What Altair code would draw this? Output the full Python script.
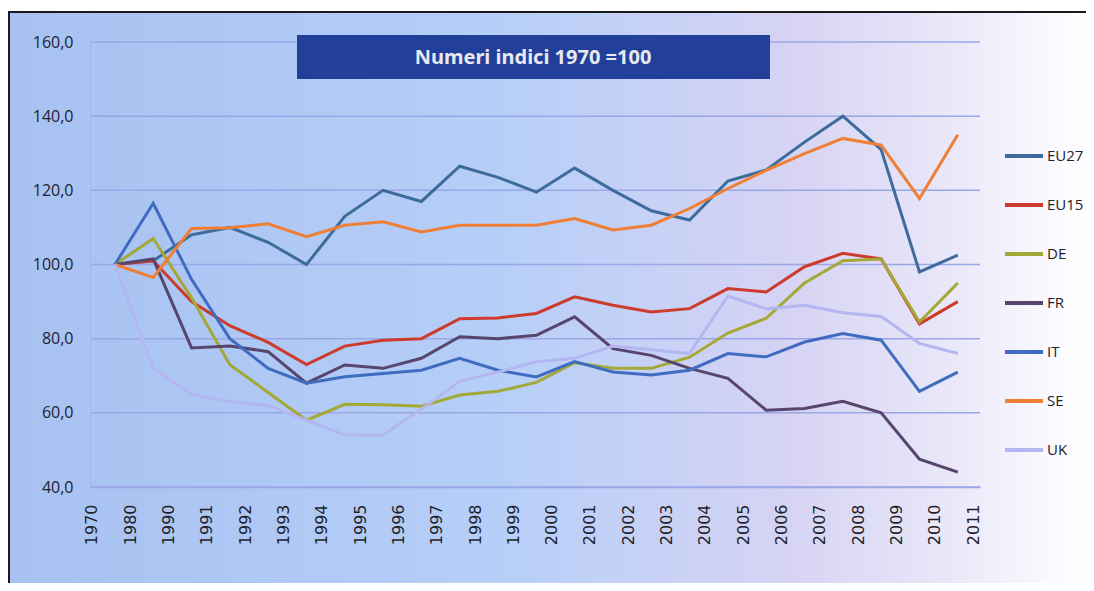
import altair as alt
import pandas as pd

# ---- data ----
year_labels = ["1970", "1980", "1990", "1991", "1992", "1993", "1994", "1995",
               "1996", "1997", "1998", "1999", "2000", "2001", "2002", "2003",
               "2004", "2005", "2006", "2007", "2008", "2009", "2010", "2011"]

series = ["EU27", "EU15", "DE", "FR", "IT", "SE", "UK"]

eu27 = [100, 101, 108, 110, 106, 100, 113, 120, 117, 126.5, 123.5, 119.5, 126,
        120, 114.5, 112, 122.5, 125.5, 133, 140, 131, 98, 102.5]
eu15 = [100, 101, 90, 83.5, 79, 73, 78, 79.6, 80, 85.4, 85.6, 86.8, 91.3,
        89, 87.2, 88.1, 93.5, 92.6, 99.4, 103, 101.5, 84, 90]
de = [100, 107, 91, 73, 65.5, 58, 62.3, 62.2, 61.8, 64.8, 65.8, 68.2, 73.5,
      72, 72, 75, 81.5, 85.5, 95, 101, 101.5, 84.5, 95]
fr = [100, 101.5, 77.5, 78, 76.5, 68, 72.9, 72, 74.7, 80.5, 80, 80.9, 85.9,
      77.3, 75.5, 72, 69.3, 60.7, 61.2, 63.1, 60, 47.5, 44]
it = [100, 116.5, 96, 80, 72, 68, 69.7, 70.6, 71.5, 74.7, 71.5, 69.7, 73.8,
      71, 70.2, 71.5, 76, 75.1, 79.1, 81.4, 79.6, 65.8, 71]
se = [100, 96.5, 109.7, 109.9, 111, 107.5, 110.6, 111.5, 108.8, 110.6, 110.6,
      110.6, 112.4, 109.3, 110.6, 115.1, 120.5, 125.4, 129.9, 134, 132.2, 117.8, 135]
uk = [100, 72, 65, 63, 62, 58, 54, 54, 61, 68.5, 71, 73.8, 74.7, 78, 77, 76,
      91.5, 88, 89, 87, 86, 78.7, 76]

y_ticks = [40, 60, 80, 100, 120, 140, 160]

colors = ["#3d6b9c", "#cc3b2c", "#a3a836", "#58456e", "#3f6cc0", "#ef7f35", "#b4b6f2"]

title_text = "Numeri indici 1970 =100"

# ---- build the tables ----
values = [eu27, eu15, de, fr, it, se, uk]
rows = []
for s, vals in zip(series, values):
    for i, v in enumerate(vals):
        rows.append({"serie": s, "pos": i + 0.6, "value": v, "order": series.index(s)})
df = pd.DataFrame(rows)

grid_df = pd.DataFrame({"value": y_ticks})
one = pd.DataFrame({"k": [0]})

label_expr = "[" + ",".join("'" + y + "'" for y in year_labels) + "][datum.value]"

x_scale = alt.Scale(domain=[-0.05, 23.18], nice=False, zero=False)
y_scale = alt.Scale(domain=[40, 160], nice=False, zero=False)

y_axis = alt.Axis(values=y_ticks,
                  labelExpr="replace(format(datum.value, '.1f'), '.', ',')",
                  title=None, grid=False, ticks=False, domain=True,
                  domainColor="#a9b6e6", labelFont="Open Sans",
                  labelFontSize=16, labelColor="#222230", labelPadding=17,
                  zindex=1)

grad = alt.LinearGradient(
    gradient="linear",
    stops=[
        alt.GradientStop(color="#a7c1f1", offset=0.0),
        alt.GradientStop(color="#b6cff8", offset=0.45),
        alt.GradientStop(color="#d6d3f4", offset=0.72),
        alt.GradientStop(color="#e8e6f8", offset=0.86),
        alt.GradientStop(color="#fbfbff", offset=0.97),
        alt.GradientStop(color="#ffffff", offset=1.0),
    ],
    x1=0, x2=1, y1=0, y2=0,
)

bg = alt.Chart(one).mark_rect(fill=grad).encode(
    x=alt.value(-82), x2=alt.value(1004), y=alt.value(-30), y2=alt.value(549)
)
frame_top = alt.Chart(one).mark_rule(color="#1a1a1a", strokeWidth=2).encode(
    x=alt.value(-82), x2=alt.value(1004), y=alt.value(-30)
)
frame_left = alt.Chart(one).mark_rule(color="#1a1a1a", strokeWidth=2).encode(
    x=alt.value(-81), y=alt.value(-30), y2=alt.value(549)
)

grid = alt.Chart(grid_df).mark_rule(color="#9ba6e6", strokeWidth=1.5).encode(
    y=alt.Y("value:Q", scale=y_scale, axis=y_axis),
    x=alt.value(0), x2=alt.value(890),
)

box = alt.Chart(one).mark_rect(color="#22409a").encode(
    x=alt.value(207), x2=alt.value(680), y=alt.value(-7), y2=alt.value(37)
)
box_text = alt.Chart(one).mark_text(
    text=title_text, font="Noto Sans", fontSize=20, fontWeight="bold",
    color="#e8e8f0", align="center", baseline="middle"
).encode(x=alt.value(443), y=alt.value(16))

lines = alt.Chart(df).mark_line(strokeWidth=3).encode(
    x=alt.X("pos:Q", scale=x_scale,
            axis=alt.Axis(values=list(range(len(year_labels))), labelExpr=label_expr,
                          title=None, labelAngle=270, labelAlign="right",
                          labelBaseline="middle", labelFont="DejaVu Sans",
                          labelFontSize=16, labelColor="#1f1f2b", labelPadding=17,
                          ticks=False, grid=False, domain=True,
                          domainColor="#9ba6e6", domainWidth=1.5,
                          labelOverlap=False, labelBound=False, zindex=1)),
    y=alt.Y("value:Q", scale=y_scale, axis=y_axis),
    color=alt.Color("serie:N",
                    scale=alt.Scale(domain=series, range=colors),
                    legend=alt.Legend(title=None, orient="none", legendX=913, legendY=93,
                                      symbolType="stroke", symbolSize=1444,
                                      symbolStrokeWidth=4, labelFont="Open Sans",
                                      labelFontSize=15, labelColor="#222222",
                                      labelOffset=2, rowPadding=20, zindex=1)),
    detail="serie:N",
    order="order:Q",
)

chart = alt.layer(bg, frame_top, frame_left, grid, box, box_text, lines).properties(
    width=890, height=445,
    padding={"left": 82, "top": 34, "right": 106, "bottom": 96},
    autosize=alt.AutoSizeParams(type="none"),
).configure_view(stroke=None).configure(background="white")

chart.save("out.html", embed_options={"renderer": "svg", "actions": False})
